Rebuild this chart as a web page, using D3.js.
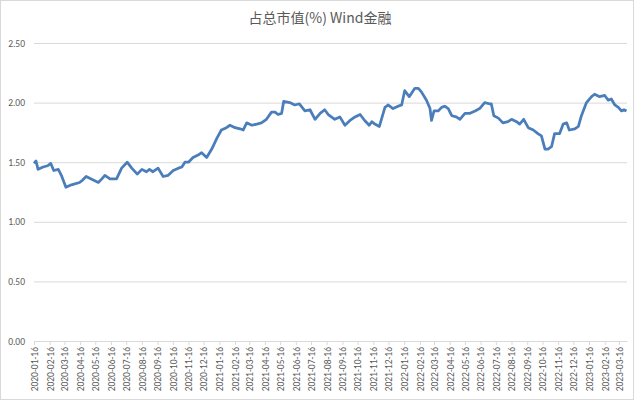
<!DOCTYPE html>
<html>
<head>
<meta charset="utf-8">
<script src="https://cdn.jsdelivr.net/npm/d3@7"></script>
<style>
	html, body { margin: 0; padding: 0; background: #fff; }
	svg { display: block; }
</style>
</head>
<body>
<div id="chartDIV"></div>
<script>
// 데이터
const chartTitle = "占总市值(%) Wind金融";
const dates = [
	"2020-01-16","2020-01-20","2020-01-24","2020-02-03","2020-02-12","2020-02-18","2020-02-24","2020-03-04","2020-03-10","2020-03-19",
	"2020-03-30","2020-04-15","2020-04-21","2020-04-28","2020-05-12","2020-05-22","2020-05-29","2020-06-04","2020-06-14","2020-06-27",
	"2020-07-07","2020-07-18","2020-07-27","2020-08-07","2020-08-16","2020-08-25","2020-08-31","2020-09-07","2020-09-17","2020-09-27",
	"2020-10-07","2020-10-17","2020-10-27","2020-11-03","2020-11-09","2020-11-16","2020-11-25","2020-12-05","2020-12-12","2020-12-22",
	"2021-01-01","2021-01-11","2021-01-20","2021-01-30","2021-02-06","2021-02-16","2021-02-26","2021-03-04","2021-03-11","2021-03-21",
	"2021-03-31","2021-04-09","2021-04-19","2021-04-29","2021-05-06","2021-05-12","2021-05-19","2021-05-23","2021-06-04","2021-06-14",
	"2021-06-23","2021-07-04","2021-07-14","2021-07-24","2021-08-03","2021-08-12","2021-08-19","2021-09-01","2021-09-11","2021-09-21",
	"2021-10-01","2021-10-11","2021-10-21","2021-10-30","2021-11-08","2021-11-13","2021-11-19","2021-11-28","2021-12-09","2021-12-15",
	"2021-12-25","2022-01-04","2022-01-11","2022-01-17","2022-01-26","2022-02-06","2022-02-13","2022-02-19","2022-03-01","2022-03-08",
	"2022-03-11","2022-03-16","2022-03-24","2022-03-31","2022-04-06","2022-04-13","2022-04-20","2022-04-29","2022-05-06","2022-05-16",
	"2022-05-26","2022-06-05","2022-06-14","2022-06-24","2022-07-03","2022-07-07","2022-07-12","2022-07-21","2022-07-30","2022-08-09",
	"2022-08-16","2022-08-26","2022-09-01","2022-09-09","2022-09-18","2022-09-28","2022-10-07","2022-10-14","2022-10-21","2022-10-27",
	"2022-11-03","2022-11-09","2022-11-19","2022-11-26","2022-12-03","2022-12-08","2022-12-19","2022-12-26","2023-01-01","2023-01-11",
	"2023-01-21","2023-01-27","2023-02-06","2023-02-16","2023-02-23","2023-03-01","2023-03-08","2023-03-15","2023-03-21","2023-03-26",
	"2023-03-31"
];
const shareValues = [
	1.49,1.51,1.44,1.46,1.47,1.49,1.43,1.44,1.39,1.29,
	1.31,1.33,1.35,1.38,1.35,1.33,1.36,1.39,1.36,1.36,
	1.45,1.50,1.45,1.40,1.44,1.42,1.44,1.42,1.45,1.38,
	1.39,1.43,1.45,1.46,1.50,1.50,1.54,1.56,1.58,1.54,
	1.61,1.70,1.77,1.79,1.81,1.79,1.78,1.77,1.83,1.81,
	1.82,1.83,1.86,1.92,1.92,1.90,1.91,2.01,2.00,1.98,
	1.99,1.93,1.94,1.86,1.91,1.94,1.90,1.86,1.88,1.81,
	1.85,1.88,1.90,1.85,1.81,1.84,1.82,1.80,1.96,1.98,
	1.95,1.97,1.98,2.10,2.05,2.12,2.12,2.09,2.02,1.95,
	1.85,1.93,1.93,1.96,1.97,1.95,1.89,1.88,1.86,1.91,
	1.91,1.93,1.95,2.00,1.99,1.99,1.89,1.87,1.83,1.84,
	1.86,1.84,1.82,1.86,1.79,1.77,1.74,1.72,1.61,1.61,
	1.63,1.74,1.74,1.82,1.83,1.77,1.78,1.80,1.89,2.00,
	2.05,2.07,2.05,2.06,2.02,2.03,1.98,1.96,1.93,1.94,
	1.93
];
const yTicks = [0, 0.5, 1.0, 1.5, 2.0, 2.5];
const xStart = "2020-01-16";
const xEnd = "2023-04-01";

const parseDate = d3.timeParse("%Y-%m-%d");
const fmtDate = d3.timeFormat("%Y-%m-%d");

const graphData = [];
for (let i in dates) {
	graphData.push({ date: parseDate(dates[i]), value: shareValues[i] });
}

function drawGraph() {
	const svgWidth = 640;
	const svgHeight = 402;
	const plot = { left: 34, right: 627, top: 43, bottom: 341 };
	const textColor = "#595959";
	const font = "Carlito, Calibri, 'Liberation Sans', Arial, sans-serif";

	const svg = d3
		.select("#chartDIV")
		.append("svg")
		.attr("width", svgWidth)
		.attr("height", svgHeight);

	// 차트 테두리
	svg.append("rect")
		.attr("x", 0.5).attr("y", 0.5)
		.attr("width", 633).attr("height", 399)
		.attr("fill", "#fff")
		.attr("stroke", "#d9d9d9");

	const xScale = d3
		.scaleTime()
		.domain([parseDate(xStart), parseDate(xEnd)])
		.range([plot.left, plot.right]);

	const yScale = d3
		.scaleLinear()
		.domain([0, 2.5])
		.range([plot.bottom, plot.top]);

	// 제목
	svg.append("text")
		.attr("x", 320)
		.attr("y", 23)
		.attr("text-anchor", "middle")
		.attr("fill", textColor)
		.style("font-family", "'Noto Sans CJK SC', sans-serif")
		.style("font-size", "14px")
		.text(chartTitle);

	// y 축 + 그리드
	const yAxis = d3.axisLeft(yScale)
		.tickValues(yTicks)
		.tickFormat(d3.format(".2f"))
		.tickSize(-(plot.right - plot.left))
		.tickPadding(9);

	const gy = svg.append("g")
		.attr("transform", `translate(${plot.left}, 0)`)
		.call(yAxis);
	gy.select(".domain").remove();
	gy.selectAll(".tick line").attr("stroke", "#d9d9d9").attr("stroke-width", 1);
	gy.selectAll(".tick text")
		.attr("fill", textColor)
		.style("font-family", font)
		.style("font-size", "9.5px");

	// x 축 (매월 16일)
	const monthTicks = d3.timeMonth
		.range(parseDate("2020-01-01"), parseDate("2023-04-01"))
		.map((d) => new Date(d.getFullYear(), d.getMonth(), 16));

	const xAxis = d3.axisBottom(xScale)
		.tickValues(monthTicks)
		.tickFormat(fmtDate)
		.tickSize(4)
		.tickSizeOuter(0);

	const gx = svg.append("g")
		.attr("transform", `translate(0, ${plot.bottom})`)
		.call(xAxis);
	gx.select(".domain").attr("stroke", "#d9d9d9");
	gx.selectAll(".tick line").attr("stroke", "#d9d9d9");
	gx.selectAll(".tick text")
		.attr("fill", textColor)
		.style("font-family", font)
		.style("font-size", "9.5px")
		.attr("text-anchor", "end")
		.attr("transform", "rotate(-90)")
		.attr("x", -6)
		.attr("y", 0)
		.attr("dy", "0.35em");

	// 선 그리기
	const line = d3.line()
		.x((d) => xScale(d.date))
		.y((d) => yScale(d.value));

	svg.append("path")
		.datum(graphData)
		.attr("fill", "none")
		.attr("stroke", "#4a7ebb")
		.attr("stroke-width", 2.75)
		.attr("stroke-linejoin", "round")
		.attr("d", line);
}

drawGraph();
</script>
</body>
</html>
